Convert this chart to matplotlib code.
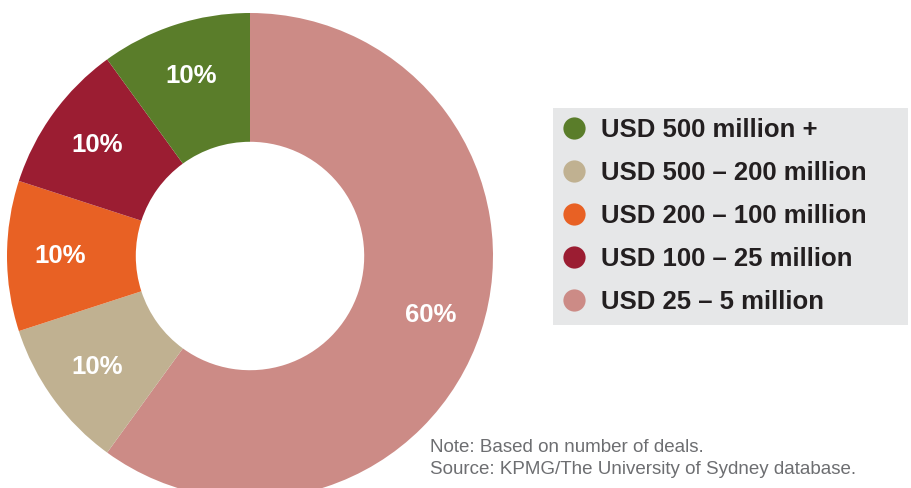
import matplotlib.pyplot as plt
from matplotlib.lines import Line2D

# deal size bands, in pie order (clockwise from 12 o'clock)
categories = ["USD 25 – 5 million", "USD 500 – 200 million", "USD 200 – 100 million",
              "USD 100 – 25 million", "USD 500 million +"]
shares = [60, 10, 10, 10, 10]
colors = ["#cc8b86", "#c0b191", "#e86124", "#9b1d32", "#5a7d2a"]
legend_order = [4, 1, 2, 3, 0]

note_lines = ["Note: Based on number of deals.",
              "Source: KPMG/The University of Sydney database."]

W, H = 912, 488
fig = plt.figure(figsize=(W / 100, H / 100), dpi=100)

# donut axes: centre (250, 256) px, outer radius 243 px
cx, cy, r = 250, 256, 243
ax = fig.add_axes([(cx - r) / W, (H - cy - r) / H, 2 * r / W, 2 * r / H])
wedges, _, autotexts = ax.pie(shares, colors=colors, startangle=90, counterclock=False,
                              radius=1, autopct="%d%%", pctdistance=0.78,
                              wedgeprops=dict(width=0.53, linewidth=0),
                              textprops=dict(color="white", fontsize=18.5, fontweight="bold",
                                             family="Liberation Sans"))
ax.set_xlim(-1, 1)
ax.set_ylim(-1, 1)
ax.set_aspect("equal")
ax.axis("off")

handles = [Line2D([], [], marker="o", linestyle="none", markersize=16,
                  markerfacecolor=colors[i], markeredgewidth=0) for i in legend_order]
labels = [categories[i] for i in legend_order]
x0, y0, x1, y1 = 553, 108, 908, 320
leg = fig.legend(handles, labels, loc="upper left",
                 bbox_to_anchor=(x0 / W, 1 - y1 / H, (x1 - x0) / W, (y1 - y0) / H),
                 mode="expand", frameon=True, fancybox=False, borderaxespad=0,
                 borderpad=0.4, labelspacing=0.74, handlelength=0.84, handletextpad=0.64,
                 prop=dict(family="Liberation Sans", weight="bold", size=18.5))
leg.get_frame().set_facecolor("#e6e7e8")
leg.get_frame().set_edgecolor("none")
leg.get_frame().set_alpha(1)
for t in leg.get_texts():
    t.set_color("#231f20")

for i, line in enumerate(note_lines):
    fig.text(430 / W, 1 - (447 + 23 * i) / H, line, ha="left", va="center",
             fontsize=13.5, color="#6d6e71", family="Liberation Sans")

fig.savefig("out.png", dpi=100)
